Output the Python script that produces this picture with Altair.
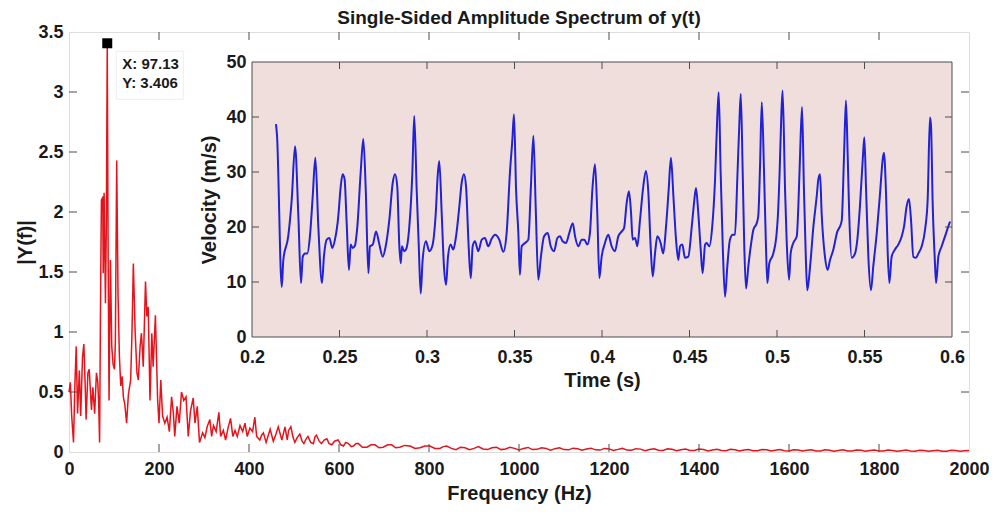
import altair as alt
import pandas as pd

# ---------------- data ----------------
FREQ_HZ = [0, 3, 6, 10, 13, 16, 19, 23, 26, 30, 33, 36, 38, 42, 45, 48, 50, 53, 57, 61,
           64, 66, 68, 70, 72, 75, 76, 78, 81, 83, 85, 87, 89, 92, 95, 98, 101, 103, 106, 109,
           112, 115, 118, 121, 124, 128, 132, 137, 140, 143, 147, 151, 154, 158, 161, 165, 170, 173, 176, 180,
           184, 187, 192, 197, 200, 204, 208, 213, 218, 223, 228, 232, 235, 240, 245, 250, 255, 260, 265, 270,
           276, 280, 285, 290, 297, 302, 307, 313, 317, 321, 327, 333, 337, 343, 348, 354, 359, 364, 369, 374,
           380, 386, 391, 396, 402, 408, 413, 417, 424, 428, 432, 438, 447, 454, 460, 465, 473, 480, 485, 488,
           493, 498, 502, 507, 513, 518, 522, 527, 531, 537, 543, 547, 550, 556, 561, 567, 573, 578, 584, 590,
           598, 604, 610, 615, 621, 627, 632, 638, 643, 652, 662, 671, 680, 689, 698, 708, 717, 726, 735, 746,
           758, 769, 780, 791, 802, 813, 824, 832, 839,
           850, 860, 870, 880, 890, 900, 910, 920, 930, 940, 950, 960, 970, 980, 990, 1000,
           1010, 1020, 1030, 1040, 1050, 1060, 1070, 1080, 1090, 1100, 1110, 1120, 1130, 1140, 1150, 1160,
           1170, 1180, 1190, 1200, 1210, 1220, 1230, 1240, 1250, 1260, 1270, 1280, 1290, 1300, 1310, 1320,
           1330, 1340, 1350, 1360, 1370, 1380, 1390, 1400, 1410, 1420, 1430, 1440, 1450, 1460, 1470, 1480,
           1490, 1500, 1510, 1520, 1530, 1540, 1550, 1560, 1570, 1580, 1590, 1600, 1610, 1620, 1630, 1640,
           1650, 1660, 1670, 1680, 1690, 1700, 1710, 1720, 1730, 1740, 1750, 1760, 1770, 1780, 1790, 1800,
           1810, 1820, 1830, 1840, 1850, 1860, 1870, 1880, 1890, 1900, 1910, 1920, 1930, 1940, 1950, 1960,
           1970, 1980, 1990, 2000]
AMP = [0.50, 0.58, 0.30, 0.08, 0.55, 0.88, 0.32, 0.68, 0.30, 0.79, 0.90, 0.55, 0.27, 0.66, 0.69, 0.48, 0.35, 0.54, 0.32, 0.66,
       0.58, 0.40, 0.08, 1.20, 2.10, 2.12, 1.49, 2.16, 1.24, 1.90, 3.406, 1.60, 0.43, 1.60, 0.88, 0.73, 0.69, 0.91, 2.43, 1.30,
       0.80, 0.55, 0.63, 0.45, 0.40, 0.24, 0.48, 0.60, 1.00, 1.57, 1.00, 0.66, 0.60, 0.88, 0.99, 0.71, 1.42, 1.13, 1.21, 0.43,
       0.99, 0.71, 1.14, 0.43, 0.24, 0.60, 0.30, 0.24, 0.29, 0.17, 0.46, 0.32, 0.13, 0.38, 0.24, 0.50, 0.43, 0.46, 0.13, 0.34,
       0.45, 0.24, 0.38, 0.08, 0.16, 0.12, 0.21, 0.27, 0.13, 0.22, 0.17, 0.33, 0.13, 0.18, 0.10, 0.21, 0.28, 0.13, 0.18, 0.13,
       0.22, 0.17, 0.24, 0.13, 0.20, 0.17, 0.29, 0.13, 0.10, 0.14, 0.16, 0.08, 0.19, 0.09, 0.15, 0.21, 0.10, 0.21, 0.10, 0.18,
       0.21, 0.12, 0.08, 0.12, 0.15, 0.09, 0.07, 0.11, 0.13, 0.08, 0.07, 0.13, 0.14, 0.09, 0.07, 0.10, 0.11, 0.07, 0.06, 0.09,
       0.10, 0.06, 0.05, 0.08, 0.07, 0.045, 0.05, 0.07, 0.07, 0.04, 0.04, 0.06, 0.06, 0.035, 0.04, 0.06, 0.06, 0.035, 0.04, 0.055,
       0.05, 0.03, 0.035, 0.05, 0.05, 0.03, 0.03, 0.045, 0.05,
       0.03, 0.02, 0.04, 0.035, 0.02, 0.03, 0.045, 0.025, 0.02, 0.035, 0.04, 0.02, 0.025, 0.04, 0.03, 0.018,
       0.03, 0.038, 0.02, 0.022, 0.035, 0.03, 0.015, 0.028, 0.035, 0.02, 0.018, 0.032, 0.028, 0.014, 0.025, 0.032,
       0.018, 0.016, 0.03, 0.026, 0.012, 0.022, 0.03, 0.016, 0.014, 0.028, 0.024, 0.011, 0.02, 0.027, 0.014, 0.013,
       0.026, 0.022, 0.01, 0.018, 0.025, 0.013, 0.012, 0.024, 0.02, 0.009, 0.017, 0.023, 0.012, 0.011, 0.022, 0.019,
       0.009, 0.016, 0.021, 0.011, 0.01, 0.02, 0.018, 0.008, 0.015, 0.02, 0.01, 0.009, 0.019, 0.016, 0.008, 0.014,
       0.019, 0.009, 0.009, 0.018, 0.015, 0.007, 0.013, 0.018, 0.009, 0.008, 0.017, 0.014, 0.007, 0.012, 0.017, 0.008,
       0.008, 0.016, 0.013, 0.006, 0.011, 0.016, 0.008, 0.007, 0.015, 0.012, 0.006, 0.011, 0.015, 0.007, 0.007, 0.014,
       0.012, 0.006, 0.01, 0.013]

TIME_S = [0.2137, 0.2143, 0.2170, 0.2179, 0.2207, 0.2227, 0.2246, 0.2265, 0.2280, 0.2290, 0.2303, 0.2316, 0.2331, 0.2347,
          0.2362, 0.2379, 0.2400, 0.2411, 0.2427, 0.2442, 0.2459, 0.2474, 0.2493, 0.2507, 0.2518, 0.2529, 0.2541, 0.2554,
          0.2564, 0.2575, 0.2588, 0.2602, 0.2621, 0.2636, 0.2650, 0.2665, 0.2674, 0.2690, 0.2709, 0.2726, 0.2747, 0.2764,
          0.2785, 0.2804, 0.2817, 0.2830, 0.2842, 0.2850, 0.2857, 0.2869, 0.2880, 0.2899, 0.2916, 0.2927, 0.2941, 0.2953,
          0.2964, 0.2975, 0.2994, 0.3013, 0.3030, 0.3050, 0.3061, 0.3070, 0.3084, 0.3097, 0.3109, 0.3120, 0.3135, 0.3150,
          0.3166, 0.3185, 0.3198, 0.3211, 0.3223, 0.3238, 0.3250, 0.3261, 0.3274, 0.3293, 0.3313, 0.3331, 0.3350, 0.3370,
          0.3389, 0.3413, 0.3436, 0.3455, 0.3474, 0.3488, 0.3497, 0.3509, 0.3522, 0.3531, 0.3541, 0.3560, 0.3579, 0.3593,
          0.3608, 0.3621, 0.3636, 0.3651, 0.3669, 0.3690, 0.3707, 0.3726, 0.3745, 0.3760, 0.3775, 0.3794, 0.3813, 0.3833,
          0.3846, 0.3865, 0.3884, 0.3899, 0.3916, 0.3931, 0.3945, 0.3960, 0.3973, 0.3985, 0.3998, 0.4017, 0.4036, 0.4055,
          0.4074, 0.4093, 0.4113, 0.4126, 0.4141, 0.4154, 0.4166, 0.4175, 0.4189, 0.4202, 0.4217, 0.4236, 0.4251, 0.4265,
          0.4278, 0.4290, 0.4303, 0.4316, 0.4335, 0.4350, 0.4366, 0.4381, 0.4394, 0.4408, 0.4423, 0.4436, 0.4446, 0.4459,
          0.4474, 0.4493, 0.4513, 0.4526, 0.4537, 0.4550, 0.4564, 0.4575, 0.4589, 0.4598, 0.4613, 0.4630, 0.4646, 0.4659,
          0.4667, 0.4678, 0.4690, 0.4703, 0.4716, 0.4731, 0.4747, 0.4760, 0.4773, 0.4785, 0.4793, 0.4804, 0.4813, 0.4823,
          0.4836, 0.4850, 0.4865, 0.4884, 0.4893, 0.4903, 0.4913, 0.4926, 0.4937, 0.4945, 0.4956, 0.4979, 0.4998, 0.5005,
          0.5015, 0.5024, 0.5032, 0.5046, 0.5055, 0.5069, 0.5078, 0.5093, 0.5113, 0.5122, 0.5131, 0.5143, 0.5154, 0.5164,
          0.5173, 0.5189, 0.5208, 0.5227, 0.5236, 0.5246, 0.5255, 0.5274, 0.5289, 0.5303, 0.5322, 0.5345, 0.5360, 0.5370,
          0.5383, 0.5394, 0.5404, 0.5413, 0.5427, 0.5446, 0.5459, 0.5474, 0.5490, 0.5499, 0.5509, 0.5522, 0.5537, 0.5550,
          0.5570, 0.5589, 0.5604, 0.5611, 0.5623, 0.5632, 0.5642, 0.5655, 0.5674, 0.5693, 0.5713, 0.5726, 0.5741, 0.5754,
          0.5766, 0.5779, 0.5794, 0.5808, 0.5827, 0.5846, 0.5861, 0.5874, 0.5880, 0.5890, 0.5901, 0.5909, 0.5922, 0.5941,
          0.5960, 0.5979, 0.5989]
VEL = [38.7, 36.6, 9.1, 14.0, 18.3, 25.0, 34.7, 21.9, 9.8, 14.6, 15.2, 15.2, 18.3, 25.6,
       32.6, 20.1, 9.8, 14.6, 17.7, 18.0, 16.2, 17.7, 21.9, 27.4, 29.6, 28.7, 20.7, 12.2,
       16.8, 16.2, 16.6, 20.1, 29.9, 36.0, 26.8, 11.6, 16.5, 16.8, 19.2, 17.1, 14.6, 16.5,
       21.4, 28.0, 29.6, 27.4, 16.5, 13.4, 16.5, 15.6, 15.9, 20.1, 29.6, 40.2, 26.8, 16.5,
       7.9, 14.0, 17.4, 15.6, 16.5, 22.5, 29.3, 32.0, 22.5, 12.8, 9.5, 14.6, 16.8, 15.9,
       18.3, 23.8, 28.0, 29.6, 27.4, 16.5, 10.7, 16.5, 17.4, 15.6, 17.7, 18.0, 16.5, 17.9,
       18.6, 17.7, 15.5, 18.9, 29.9, 36.0, 40.5, 26.8, 18.9, 11.3, 16.5, 17.1, 17.7, 26.8,
       36.6, 23.8, 10.4, 14.6, 18.3, 18.9, 16.5, 15.6, 18.0, 18.3, 17.4, 17.1, 18.9, 20.7,
       18.3, 16.5, 17.7, 17.7, 16.8, 18.9, 26.8, 31.4, 22.6, 10.7, 14.6, 17.1, 18.6, 16.5,
       15.6, 18.3, 19.2, 19.8, 24.4, 26.5, 22.6, 17.7, 18.0, 16.5, 21.2, 27.4, 30.2, 26.2,
       16.5, 11.0, 15.2, 18.3, 17.1, 15.2, 20.1, 26.8, 32.6, 25.6, 17.7, 14.0, 16.5, 16.8,
       14.4, 14.6, 20.1, 24.4, 27.1, 22.6, 15.9, 11.6, 16.8, 17.1, 16.5, 20.1, 28.6, 40.2,
       44.5, 29.9, 16.5, 7.3, 12.8, 17.7, 18.6, 18.6, 28.6, 39.0, 44.2, 29.9, 16.5, 8.8,
       12.8, 16.5, 19.5, 20.7, 22.0, 31.0, 42.7, 29.9, 16.5, 9.8, 13.4, 15.2, 18.9, 22.0,
       30.0, 39.6, 44.8, 26.8, 17.7, 10.4, 15.2, 17.1, 18.3, 23.8, 32.3, 41.8, 26.8, 15.2,
       8.5, 12.8, 20.1, 25.6, 28.6, 29.6, 22.6, 14.6, 12.2, 14.0, 15.9, 19.2, 20.1, 21.2,
       32.9, 43.0, 32.9, 21.9, 14.4, 15.2, 17.7, 23.8, 32.3, 36.3, 26.8, 14.6, 8.5, 12.8,
       18.9, 26.2, 32.3, 33.5, 26.2, 15.9, 9.8, 14.6, 15.9, 16.8, 18.3, 20.1, 23.8, 25.1,
       21.2, 14.6, 14.4, 15.2, 16.5, 19.5, 25.0, 39.9, 38.4, 23.8, 14.6, 9.8, 14.6, 16.5,
       18.3, 20.1, 21.0]

MAIN_X_TICKS = [0, 200, 400, 600, 800, 1000, 1200, 1400, 1600, 1800, 2000]
MAIN_Y_TICKS = [0, 0.5, 1, 1.5, 2, 2.5, 3, 3.5]
INSET_X_TICKS = [0.2, 0.25, 0.3, 0.35, 0.4, 0.45, 0.5, 0.55, 0.6]
INSET_Y_TICKS = [0, 10, 20, 30, 40, 50]
PEAK_F = 85.0
PEAK_A = 3.406
TIP_TEXT = "X: 97.13\nY: 3.406"
TITLE = "Single-Sided Amplitude Spectrum of y(t)"

# ---------------- layout / style ----------------
W, H = 900, 420
FONT = "Liberation Sans"
AX = "#4d4d4d"
TXT = "#1a1a1a"
MAIN_BG = "#CCDFF5"
INSET_BG = "#EFDEDC"
XD, YD = [0, 2000], [0, 3.5]
IXD, IYD = [0.2, 0.6], [0, 50]
IXR, IYR = [183, 883], [305, 30]   # inset placement inside the plot (px)
KX = (XD[1] - XD[0]) / W            # data units per pixel
KY = (YD[1] - YD[0]) / H
# data-tip box: pixel offsets from the tip point (left, right, top, bottom)
BOX_L, BOX_R, BOX_T, BOX_B = 9, 76, 8, 56

def tick_rows(xt, yt, xd, yd, lx, ly):
    rows = []
    for v in xt[1:-1]:
        rows.append(dict(p=v, p2=v, q=yd[0], q2=yd[0] + ly))
        rows.append(dict(p=v, p2=v, q=yd[1], q2=yd[1] - ly))
    for v in yt[1:-1]:
        rows.append(dict(p=xd[0], p2=xd[0] + lx, q=v, q2=v))
        rows.append(dict(p=xd[1], p2=xd[1] - lx, q=v, q2=v))
    return pd.DataFrame(rows)

TL = 8
main_ticks = tick_rows(MAIN_X_TICKS, MAIN_Y_TICKS, XD, YD, TL * KX, TL * KY)
ITL = 7
inset_ticks = tick_rows(INSET_X_TICKS, INSET_Y_TICKS, IXD, IYD,
                        ITL * (IXD[1] - IXD[0]) / (IXR[1] - IXR[0]),
                        ITL * (IYD[1] - IYD[0]) / (IYR[0] - IYR[1]))

spec_df = pd.DataFrame({"p": FREQ_HZ, "q": AMP})
vel_df = pd.DataFrame({"p": TIME_S, "q": VEL})
tip_df = pd.DataFrame({"p": [PEAK_F], "q": [PEAK_A], "label": [TIP_TEXT]})
tip_box_df = pd.DataFrame({"p": [PEAK_F + BOX_L * KX], "p2": [PEAK_F + BOX_R * KX],
                           "q": [PEAK_A - BOX_T * KY], "q2": [PEAK_A - BOX_B * KY]})
inset_box = pd.DataFrame({"p": [IXD[0]], "p2": [IXD[1]], "q": [IYD[0]], "q2": [IYD[1]]})

common_axis = dict(ticks=False, tickSize=0, domain=False, grid=False, labelExpr="'' + datum.value",
                   labelFont=FONT, labelFontSize=18, labelFontWeight="bold", labelColor=TXT,
                   titleFont=FONT, titleFontSize=20, titleFontWeight="bold", titleColor=TXT,
                   labelFlush=False, labelOverlap=False, labelBound=False)

mx = alt.X("p:Q", scale=alt.Scale(domain=XD, nice=False, zero=False),
           axis=alt.Axis(values=MAIN_X_TICKS, labelPadding=8, title="Frequency (Hz)",
                         titlePadding=5, orient="bottom", **common_axis))
my = alt.Y("q:Q", scale=alt.Scale(domain=YD, nice=False),
           axis=alt.Axis(values=MAIN_Y_TICKS, labelPadding=6, title="|Y(f)|",
                         titlePadding=2, orient="left", **common_axis))
ix = alt.X("p:Q", scale=alt.Scale(domain=IXD, range=IXR, nice=False, zero=False),
           axis=alt.Axis(values=INSET_X_TICKS, labelPadding=11, title="Time (s)",
                         titlePadding=4, orient="bottom", offset=-(H - IYR[0]), **common_axis))
iy = alt.Y("q:Q", scale=alt.Scale(domain=IYD, range=IYR, nice=False),
           axis=alt.Axis(values=INSET_Y_TICKS, labelPadding=6, title="Velocity (m/s)",
                         titlePadding=6, orient="left", offset=-IXR[0], **common_axis))

spectrum = alt.Chart(spec_df).mark_line(color="#E3141C", strokeWidth=1.5).encode(x=mx, y=my)
mticks = alt.Chart(main_ticks).mark_rule(color=AX, strokeWidth=1).encode(x=mx, x2="p2", y=my, y2="q2")
tip_box = alt.Chart(tip_box_df).mark_rect(fill="#FFFFFF", fillOpacity=1, stroke="#EDEDED",
                                          strokeWidth=1, opacity=1).encode(x=mx, x2="p2", y=my, y2="q2")
tip_mark = alt.Chart(tip_df).mark_square(size=100, color="black", opacity=1).encode(x=mx, y=my)
tip_text = alt.Chart(tip_df).mark_text(align="left", baseline="top", dx=15, dy=14, lineBreak="\n",
                                       lineHeight=19, font=FONT, fontSize=15, fontWeight="bold",
                                       color=TXT).encode(x=mx, y=my, text="label:N")
main = alt.layer(spectrum, mticks, tip_box, tip_mark, tip_text)

ibg = alt.Chart(inset_box).mark_rect(fill=INSET_BG, stroke=AX, strokeWidth=1).encode(x=ix, x2="p2", y=iy, y2="q2")
vline = alt.Chart(vel_df).mark_line(color="#2222D4", strokeWidth=2, interpolate="monotone").encode(x=ix, y=iy)
iticks = alt.Chart(inset_ticks).mark_rule(color=AX, strokeWidth=1).encode(x=ix, x2="p2", y=iy, y2="q2")
inset = alt.layer(ibg, vline, iticks)

chart = alt.layer(main, inset).resolve_scale(x="independent", y="independent").properties(
    width=W, height=H,
    padding={"left": 61, "top": 24, "right": 20, "bottom": 57},
    autosize=alt.AutoSizeParams(type="none"),
    title=alt.TitleParams(TITLE, font=FONT, fontSize=19, fontWeight="bold", color=TXT,
                          anchor="middle", offset=-5),
).configure_view(fill=MAIN_BG, stroke=AX, strokeWidth=1).configure(background="white")

chart.save("out.html", embed_options={"renderer": "svg", "actions": False})
